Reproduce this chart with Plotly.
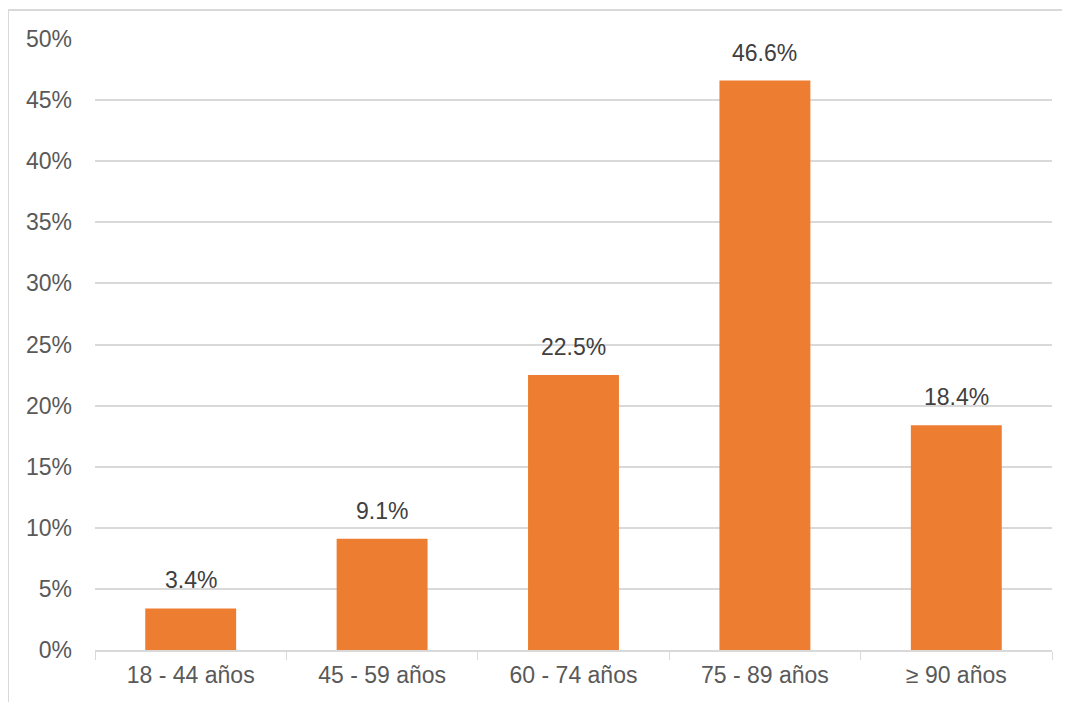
import plotly.graph_objects as go

categories = ["18 - 44 años", "45 - 59 años", "60 - 74 años", "75 - 89 años", "≥ 90 años"]
values = [3.4, 9.1, 22.5, 46.6, 18.4]
labels = ["3.4%", "9.1%", "22.5%", "46.6%", "18.4%"]
y_ticks = [0, 5, 10, 15, 20, 25, 30, 35, 40, 45, 50]
y_tick_text = [f"{v}%" for v in y_ticks]

OFF = 8  # page body margin
W, H = 1070, 702
L, R, T, B = 95 - OFF, 18 + OFF, 39 - OFF, 52 + OFF
pw, ph = W - L - R, H - T - B

fig = go.Figure()
fig.add_trace(go.Bar(x=categories, y=values, marker=dict(color="#ED7D31", line=dict(width=0)),
                     width=0.475, hoverinfo="skip"))

for c, v, t in zip(categories, values, labels):
    fig.add_annotation(x=c, y=v, text=t, showarrow=False, yanchor="bottom", yshift=13,
                       font=dict(family="Liberation Sans, Arial", size=23, color="#404040"))

def px_x(x):
    return (x - OFF - L) / pw

def px_y(y):
    return (H - B - (y - OFF)) / ph

line = dict(color="#D9D9D9", width=2)
fig.add_shape(type="line", xref="paper", yref="paper", x0=px_x(8), x1=px_x(1080), y0=px_y(10), y1=px_y(10), line=line)
fig.add_shape(type="line", xref="paper", yref="paper", x0=px_x(8), x1=px_x(8), y0=px_y(10), y1=px_y(710), line=line)

fig.update_layout(
    width=W, height=H,
    margin=dict(l=L, r=R, t=T, b=B, pad=0),
    paper_bgcolor="white", plot_bgcolor="white",
    showlegend=False,
    font=dict(family="Liberation Sans, Arial", size=23, color="#595959"),
    xaxis=dict(showgrid=False, showline=True, linecolor="#D9D9D9", linewidth=1.5,
               ticks="outside", tickson="boundaries", ticklen=8, tickcolor="#D9D9D9",
               ticklabelstandoff=4,
               tickfont=dict(size=23, color="#595959")),
    yaxis=dict(range=[0, 50], tickvals=y_ticks, ticktext=y_tick_text, showgrid=True,
               gridcolor="#D9D9D9", gridwidth=1.5, zeroline=False, showline=False,
               ticklabelstandoff=22, tickfont=dict(size=23, color="#595959")),
    bargap=0.525,
)

fig.write_html("out.html")
